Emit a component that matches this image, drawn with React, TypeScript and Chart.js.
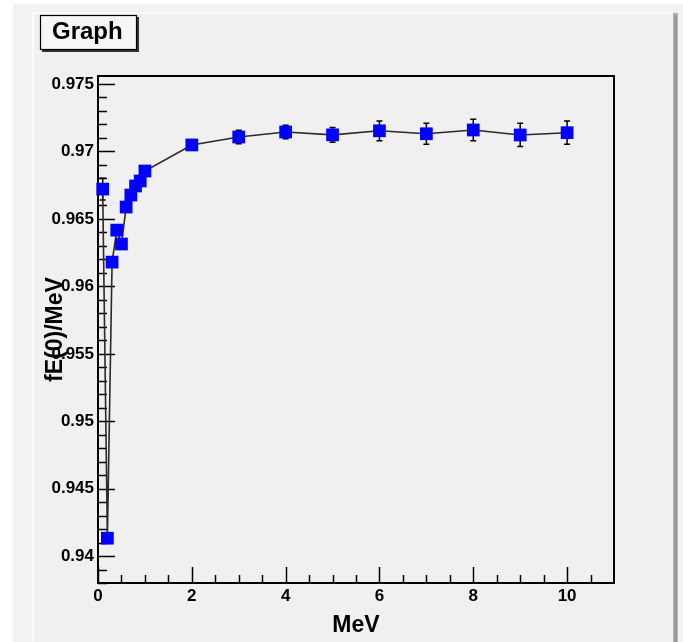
import React, { useEffect, useRef } from "react";
import { Chart, registerables } from "chart.js";

Chart.register(...registerables);

const energies = [0.1, 0.2, 0.3, 0.4, 0.5, 0.6, 0.7, 0.8, 0.9, 1, 2, 3, 4, 5, 6, 7, 8, 9, 10];
const fE0 = [
  0.96721, 0.94134, 0.9618, 0.96417, 0.96314, 0.96588, 0.96677, 0.96744, 0.96781, 0.96855,
  0.97048, 0.97107, 0.97144, 0.97123, 0.97153, 0.97131, 0.97159, 0.97122, 0.97139,
];
const fE0Err = [
  0.0008, 0, 0.0002, 0.0002, 0.0002, 0.0002, 0.0002, 0.0002, 0.0002, 0.0002,
  0.0003, 0.0005, 0.0005, 0.00055, 0.00073, 0.00078, 0.00079, 0.00086, 0.00086,
];
const xTickValues = [0, 2, 4, 6, 8, 10];
const xTickLabels = ["0", "2", "4", "6", "8", "10"];
const yTickValues = [0.94, 0.945, 0.95, 0.955, 0.96, 0.965, 0.97, 0.975];
const yTickLabels = ["0.94", "0.945", "0.95", "0.955", "0.96", "0.965", "0.97", "0.975"];
const xMinorTicks = [0.5, 1, 1.5, 2.5, 3, 3.5, 4.5, 5, 5.5, 6.5, 7, 7.5, 8.5, 9, 9.5, 10.5];
const yMinorTicks = [
  0.938, 0.939, 0.941, 0.942, 0.943, 0.944, 0.946, 0.947, 0.948, 0.949, 0.951, 0.952, 0.953, 0.954,
  0.956, 0.957, 0.958, 0.959, 0.961, 0.962, 0.963, 0.964, 0.966, 0.967, 0.968, 0.969, 0.971,
  0.972, 0.973, 0.974,
];
const titleText = "Graph";
const xTitle = "MeV";
const yTitle = "fE(0)/MeV";

const FONT = '"Liberation Sans", Arial, sans-serif';

const framePlugin = {
  id: "rootFrame",
  beforeDraw(chart: any) {
    const ctx = chart.ctx;
    ctx.save();
    ctx.fillStyle = "#ffffff";
    ctx.fillRect(0, 0, chart.width, chart.height);
    // outer canvas area
    ctx.fillStyle = "#f3f3f3";
    ctx.fillRect(13, 4, 670, 638);
    // inner pad
    ctx.fillStyle = "#f0f0f0";
    ctx.fillRect(33, 13, 640, 629);
    // highlight (top / left)
    ctx.fillStyle = "#fbfbfb";
    ctx.fillRect(33, 12, 640, 2);
    ctx.fillRect(32, 12, 2, 630);
    // right shadow
    ctx.fillStyle = "#b4b4b4";
    ctx.fillRect(673, 13, 5, 629);
    ctx.fillStyle = "#9a9a9a";
    ctx.fillRect(674, 15, 3, 627);
    // title box
    ctx.fillStyle = "#333333";
    ctx.fillRect(42, 17, 97, 35);
    ctx.fillStyle = "#f6f6f6";
    ctx.fillRect(40, 15, 97, 35);
    ctx.strokeStyle = "#000";
    ctx.lineWidth = 1.2;
    ctx.strokeRect(40.5, 15.5, 96, 34);
    ctx.fillStyle = "#000";
    ctx.font = `bold 24px ${FONT}`;
    ctx.textAlign = "left";
    ctx.textBaseline = "alphabetic";
    ctx.fillText(titleText, 52, 39);
    ctx.restore();
  },
  beforeDatasetsDraw(chart: any) {
    const ctx = chart.ctx;
    const area = chart.chartArea;
    const xs = chart.scales.x;
    const ys = chart.scales.y;
    ctx.save();
    ctx.strokeStyle = "#000";
    ctx.lineWidth = 2;
    ctx.strokeRect(area.left, area.top, area.right - area.left, area.bottom - area.top);
    ctx.lineWidth = 1.5;
    ctx.beginPath();
    xTickValues.forEach((v) => {
      const px = Math.round(xs.getPixelForValue(v)) + 0.5;
      ctx.moveTo(px, area.bottom);
      ctx.lineTo(px, area.bottom - 16);
    });
    xMinorTicks.forEach((v) => {
      const px = Math.round(xs.getPixelForValue(v)) + 0.5;
      ctx.moveTo(px, area.bottom);
      ctx.lineTo(px, area.bottom - 8);
    });
    yTickValues.forEach((v) => {
      const py = Math.round(ys.getPixelForValue(v)) + 0.5;
      ctx.moveTo(area.left, py);
      ctx.lineTo(area.left + 17, py);
    });
    yMinorTicks.forEach((v) => {
      const py = Math.round(ys.getPixelForValue(v)) + 0.5;
      ctx.moveTo(area.left, py);
      ctx.lineTo(area.left + 9, py);
    });
    ctx.stroke();

    // error bars
    ctx.lineWidth = 1.5;
    ctx.beginPath();
    energies.forEach((e, i) => {
      const err = fE0Err[i];
      if (!err) return;
      const px = xs.getPixelForValue(e);
      const top = ys.getPixelForValue(fE0[i] + err);
      const bot = ys.getPixelForValue(fE0[i] - err);
      ctx.moveTo(px, top);
      ctx.lineTo(px, bot);
      ctx.moveTo(px - 3, top);
      ctx.lineTo(px + 3, top);
      ctx.moveTo(px - 3, bot);
      ctx.lineTo(px + 3, bot);
    });
    ctx.stroke();

    // axis titles
    ctx.fillStyle = "#000";
    ctx.font = `bold 23px ${FONT}`;
    ctx.textAlign = "center";
    ctx.textBaseline = "middle";
    ctx.fillText(xTitle, (area.left + area.right) / 2, 626);
    ctx.translate(56, (area.top + area.bottom) / 2);
    ctx.rotate(-Math.PI / 2);
    ctx.fillText(yTitle, 0, 0);
    ctx.restore();
  },
};

export default function App() {
  const ref = useRef<HTMLCanvasElement | null>(null);
  useEffect(() => {
    if (!ref.current) return;
    const chart = new Chart(ref.current, {
      type: "scatter",
      data: {
        datasets: [
          {
            data: energies.map((e, i) => ({ x: e, y: fE0[i] })),
            showLine: true,
            borderColor: "#2a2a2a",
            borderWidth: 1.6,
            backgroundColor: "#0000ff",
            pointStyle: "rect",
            pointRadius: 9,
            pointBorderWidth: 0,
            pointBackgroundColor: "#0000ff",
            clip: false,
          } as any,
        ],
      },
      options: {
        responsive: false,
        animation: false,
        devicePixelRatio: 1,
        layout: { padding: { left: 0, top: 76, right: 69, bottom: 0 } },
        plugins: { legend: { display: false }, tooltip: { enabled: false }, title: { display: false } },
        scales: {
          x: {
            type: "linear",
            min: 0,
            max: 11,
            grid: { display: false, drawTicks: false },
            border: { display: false },
            afterBuildTicks: (s: any) => {
              s.ticks = xTickValues.map((v) => ({ value: v }));
            },
            afterFit: (s: any) => {
              s.height = 59;
            },
            ticks: {
              padding: 3,
              color: "#000",
              font: { family: FONT, size: 17, weight: "bold" },
              maxRotation: 0,
              callback: (v: any) => {
                const i = xTickValues.indexOf(Number(v));
                return i >= 0 ? xTickLabels[i] : "";
              },
            },
          },
          y: {
            type: "linear",
            min: 0.93802,
            max: 0.97559,
            grid: { display: false, drawTicks: false },
            border: { display: false },
            afterBuildTicks: (s: any) => {
              s.ticks = yTickValues.map((v) => ({ value: v }));
            },
            afterFit: (s: any) => {
              s.width = 98;
            },
            ticks: {
              padding: 4,
              color: "#000",
              font: { family: FONT, size: 17, weight: "bold" },
              callback: (v: any) => {
                const i = yTickValues.findIndex((t) => Math.abs(t - Number(v)) < 1e-9);
                return i >= 0 ? yTickLabels[i] : "";
              },
            },
          },
        },
      },
      plugins: [framePlugin],
    } as any);
    return () => chart.destroy();
  }, []);
  return (
    <div style={{ position: "fixed", left: 0, top: 0, width: 683, height: 642, background: "#fff" }}>
      <canvas ref={ref} width={683} height={642} style={{ display: "block", width: 683, height: 642 }} />
    </div>
  );
}
